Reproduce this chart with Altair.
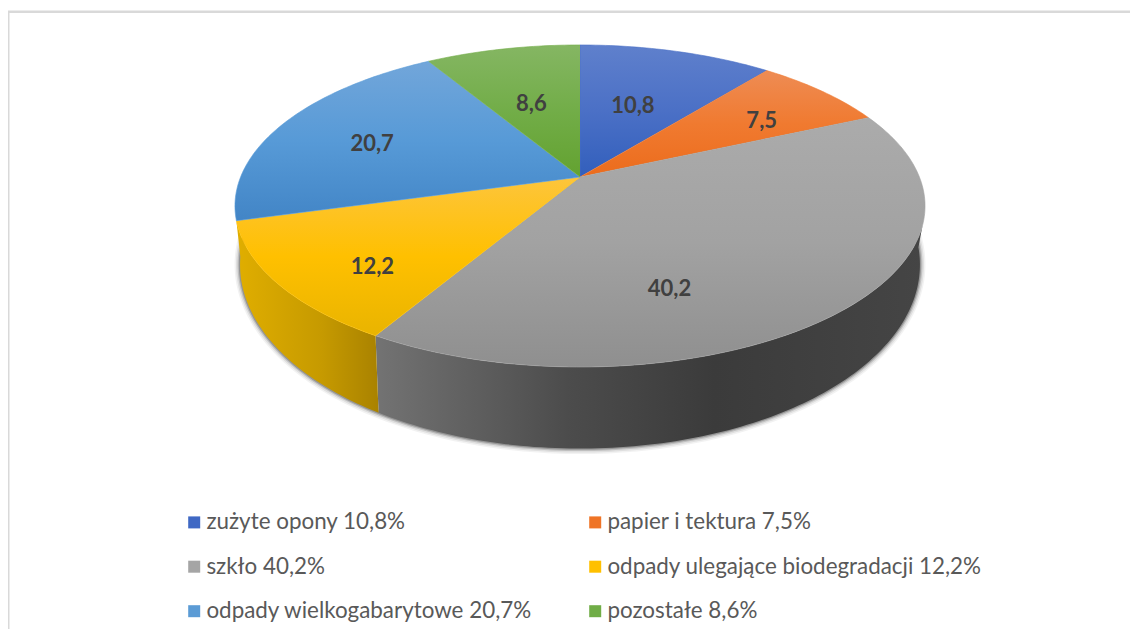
import math
import altair as alt
import pandas as pd

# --- chart content
categories = ["zużyte opony", "papier i tektura", "szkło",
              "odpady ulegające biodegradacji", "odpady wielkogabarytowe", "pozostałe"]
shares = [10.8, 7.5, 40.2, 12.2, 20.7, 8.6]
value_labels = ["10,8", "7,5", "40,2", "12,2", "20,7", "8,6"]
legend_labels = ["zużyte opony 10,8%", "papier i tektura 7,5%", "szkło 40,2%",
                 "odpady ulegające biodegradacji 12,2%", "odpady wielkogabarytowe 20,7%", "pozostałe 8,6%"]
legend_colors = ["#3f68c4", "#ef7426", "#a5a5a5", "#ffc000", "#5b9bd5", "#70ad47"]
top_stops = [["#5f80cc", "#4b70c6", "#325fbc"],
             ["#ee8c54", "#f07a30", "#ec6c1c"],
             ["#ababab", "#a2a2a2", "#8f8f8f"],
             ["#fdc53c", "#ffc000", "#e9b400"],
             ["#72a6da", "#579ad7", "#4285c6"],
             ["#85b663", "#72ad48", "#63a230"]]
# where each value label sits on the pie: share of the turn, fraction of radius
label_turn = [5.1, 15.3, 44.3, 63.1, 80.6, 95.4]
label_radius = [0.54, 0.70, 0.668, 0.757, 0.68, 0.55]

# --- perspective of the pie
W, H = 1122, 621
APEX_X, APEX_Y = 580, 177
A, B, K = 339.4, 155.8, 0.18
FLOOR_Y, FLOOR_A, FLOOR_B = 231.5, 334.4, 178.0


def project(turn_deg, r=1.0):
    u, v = r * math.sin(math.radians(turn_deg)), r * math.cos(math.radians(turn_deg))
    w = 1 + K * v
    return APEX_X + A * u / w, APEX_Y - B * v / w


def floor(turn_deg):
    u, v = math.sin(math.radians(turn_deg)), math.cos(math.radians(turn_deg))
    w = 1 + K * v
    return APEX_X + FLOOR_A * u / w, FLOOR_Y - FLOOR_B * v / w


def steps(a, b):
    n = max(2, int(abs(b - a)) + 1)
    return [a + (b - a) * i / (n - 1) for i in range(n)]


def frame(points):
    return pd.DataFrame({"x": [p[0] for p in points], "y": [p[1] for p in points],
                         "i": list(range(len(points)))})


X = alt.X("x:Q", axis=None, scale=alt.Scale(domain=[8, 8 + W], nice=False, zero=False))
Y = alt.Y("y:Q", axis=None, scale=alt.Scale(domain=[8 + H, 8], nice=False, zero=False))
ORDER = alt.Order("i:Q")


def polygon(points, fill, stroke=None):
    kw = {"stroke": stroke, "strokeWidth": 0.6} if stroke else {"strokeWidth": 0}
    return alt.Chart(frame(points)).mark_line(fill=fill, interpolate="linear", **kw).encode(
        x=X, y=Y, order=ORDER)


def gradient(colors, offsets, horizontal=False):
    return alt.Gradient(
        gradient="linear",
        stops=[alt.GradientStop(color=c, offset=o) for c, o in zip(colors, offsets)],
        x1=0, y1=0, x2=1 if horizontal else 0, y2=0 if horizontal else 1)


bounds = [0.0]
for s in shares:
    bounds.append(bounds[-1] + s * 3.6)

layers = []

# soft shadow under the wall
rim = [floor(t) for t in steps(80, 268)]
for width, op in [(11, 0.05), (8, 0.08), (5, 0.14), (2.5, 0.22)]:
    layers.append(alt.Chart(frame(rim)).mark_line(color="#000000", strokeWidth=width, opacity=op).encode(
        x=X, y=Y, order=ORDER))

# side walls: upper rim, then lower rim back to where the silhouette leaves it
layers.append(polygon([project(t) for t in steps(107, bounds[3])] + [floor(t) for t in steps(bounds[3], 95)],
                      gradient(["#737373", "#4c4c4c", "#3b3b3b", "#454545"], [0, 0.35, 0.62, 1], True)))
layers.append(polygon([project(t) for t in steps(bounds[3], bounds[4])] + [floor(t) for t in steps(262, bounds[3])],
                      gradient(["#e0ae00", "#c69a00", "#a98200"], [0, 0.6, 1], True)))

# top faces
for i in range(len(shares)):
    pts = [(APEX_X, APEX_Y)] + [project(t) for t in steps(bounds[i], bounds[i + 1])]
    layers.append(polygon(pts, gradient(top_stops[i], [0, 0.5, 1]), stroke=top_stops[i][1]))

# legend carrier
legend_df = pd.DataFrame({"x": [APEX_X] * 6, "y": [APEX_Y] * 6, "name": legend_labels})
layers.append(alt.Chart(legend_df).mark_square(size=0, opacity=1).encode(
    x=X, y=Y,
    color=alt.Color("name:N", sort=legend_labels,
                    scale=alt.Scale(domain=legend_labels, range=legend_colors),
                    legend=alt.Legend(orient="none", legendX=175, legendY=503, columns=2, title=None,
                                      direction="horizontal",
                                      symbolType="square", symbolSize=144, symbolStrokeWidth=0,
                                      symbolOpacity=1, labelFont="Lato", labelFontSize=22.4,
                                      labelColor="#595959", labelOffset=1, labelLimit=500,
                                      rowPadding=21.5, columnPadding=51, padding=0))))

# value labels
pos = [project(t * 3.6, r) for t, r in zip(label_turn, label_radius)]
text_df = pd.DataFrame({"x": [p[0] for p in pos], "y": [p[1] for p in pos], "t": value_labels})
layers.append(alt.Chart(text_df).mark_text(font="Lato", fontWeight="bold", fontSize=22, color="#404040",
                                           align="center", baseline="middle", dy=2).encode(x=X, y=Y, text="t:N"))

# frame of the picture
layers.append(alt.Chart(pd.DataFrame({"a": [0]})).mark_rule(color="#d9d9d9", strokeWidth=2.5).encode(
    x=alt.value(0), x2=alt.value(W), y=alt.value(3.7)))
layers.append(alt.Chart(pd.DataFrame({"a": [0]})).mark_rule(color="#d9d9d9", strokeWidth=3).encode(
    x=alt.value(0), y=alt.value(3.7), y2=alt.value(H)))

chart = alt.layer(*layers).properties(
    width=W, height=H, padding=0, background="#ffffff",
    autosize=alt.AutoSizeParams(type="none", contains="padding")
).configure_view(stroke=None)

chart.save("out.html", embed_options={"renderer": "svg", "actions": False})
